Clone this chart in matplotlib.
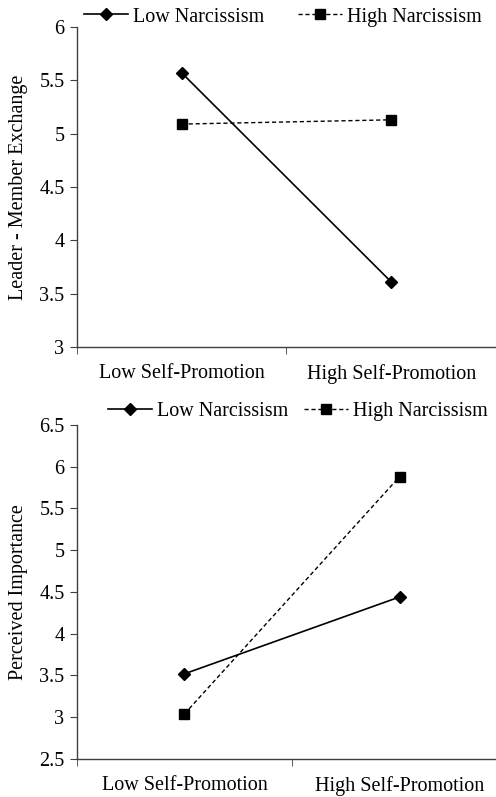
import numpy as np
import matplotlib
matplotlib.use("Agg")
import matplotlib.pyplot as plt
from matplotlib.lines import Line2D

plt.rcParams['font.family'] = ['Liberation Serif', 'DejaVu Serif']

categories = ["Low Self-Promotion", "High Self-Promotion"]
series_names = ["Low Narcissism", "High Narcissism"]
lmx_low = [5.57, 3.61]
lmx_high = [5.09, 5.13]
imp_low = [3.52, 4.44]
imp_high = [3.04, 5.88]

FS = 14.5
fig = plt.figure(figsize=(4.96, 7.97), dpi=100)
ax1 = fig.add_axes([0.1552, 0.5646, 0.8448, 0.4015])
ax2 = fig.add_axes([0.1552, 0.0477, 0.867, 0.4191])

def style(ax, low, high, ylim, yticks, ylabel, legend_y, legend_x, cs):
    x = np.arange(len(categories))
    ax.plot(x, low, color="black", lw=1.2, marker="D", ms=6, label=series_names[0])
    ax.plot(x, high, color="black", lw=1.0, ls=(0, (3, 2)), marker="s", ms=7.5, label=series_names[1])
    ax.set_xlim(-0.5, 1.5); ax.set_ylim(*ylim)
    ax.set_yticks(yticks); ax.set_yticklabels([f"{v:g}" for v in yticks], fontsize=FS)
    ax.set_xticks(x); ax.set_xticklabels(categories, fontsize=FS)
    ax.set_xticks([-0.5, 0.5, 1.5], minor=True)
    ax.tick_params(axis="x", which="major", length=0, pad=12)
    ax.tick_params(axis="x", which="minor", length=5, direction="out", color="#404040")
    ax.tick_params(axis="y", length=5, direction="out", color="#404040", pad=4)
    for s in ["top", "right"]: ax.spines[s].set_visible(False)
    for s in ["left", "bottom"]: ax.spines[s].set_color("#404040"); ax.spines[s].set_linewidth(1.0)
    ax.set_ylabel(ylabel, fontsize=FS, labelpad=8)
    h = [Line2D([], [], color="black", lw=1.2, marker="D", ms=6),
         Line2D([], [], color="black", lw=1.0, ls=(0, (3, 2)), marker="s", ms=7.5)]
    ax.legend(h, series_names, ncol=2, frameon=False, fontsize=FS, loc="center left",
              bbox_to_anchor=(legend_x, legend_y), bbox_transform=fig.transFigure,
              handlelength=2.2, handletextpad=0.25, columnspacing=cs, borderpad=0)

style(ax1, lmx_low, lmx_high, (3, 6), [3, 3.5, 4, 4.5, 5, 5.5, 6], "Leader - Member Exchange",
      1 - 17 / 797, 74 / 496, 1.65)
style(ax2, imp_low, imp_high, (2.5, 6.5), [2.5, 3, 3.5, 4, 4.5, 5, 5.5, 6, 6.5], "Perceived Importance",
      1 - 411 / 797, 98 / 496, 0.75)

fig.savefig("out.png", dpi=100)
